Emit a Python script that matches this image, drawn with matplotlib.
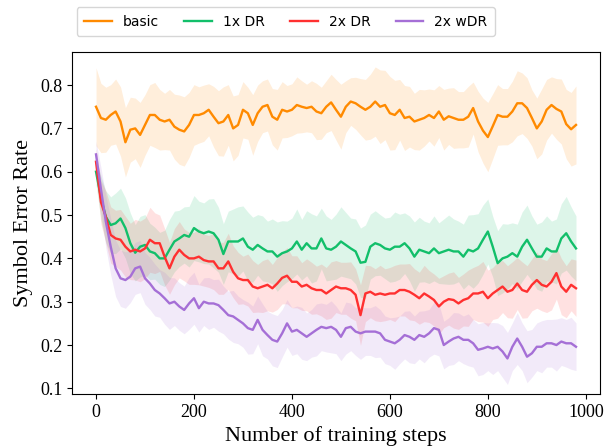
import numpy as np
import matplotlib
matplotlib.use("Agg")
import matplotlib.pyplot as plt

steps = list(range(0, 990, 10))

basic = [0.750, 0.724, 0.720, 0.731, 0.739, 0.716, 0.668, 0.697, 0.700, 0.685,
         0.708, 0.731, 0.731, 0.720, 0.716, 0.720, 0.704, 0.697, 0.693, 0.708,
         0.731, 0.731, 0.735, 0.743, 0.727, 0.712, 0.716, 0.731, 0.700, 0.708,
         0.743, 0.735, 0.708, 0.735, 0.750, 0.754, 0.727, 0.720, 0.743, 0.739,
         0.743, 0.754, 0.750, 0.747, 0.750, 0.739, 0.735, 0.750, 0.760, 0.743,
         0.727, 0.750, 0.762, 0.758, 0.750, 0.743, 0.750, 0.762, 0.750, 0.754,
         0.735, 0.731, 0.743, 0.724, 0.727, 0.716, 0.720, 0.724, 0.731, 0.724,
         0.739, 0.720, 0.728, 0.724, 0.720, 0.720, 0.727, 0.747, 0.716, 0.695,
         0.680, 0.705, 0.731, 0.727, 0.727, 0.739, 0.758, 0.758, 0.747, 0.724,
         0.700, 0.716, 0.743, 0.754, 0.745, 0.739, 0.710, 0.698, 0.708]

dr1 = [0.600, 0.540, 0.496, 0.477, 0.481, 0.492, 0.470, 0.435, 0.413, 0.427,
       0.431, 0.416, 0.412, 0.400, 0.400, 0.420, 0.439, 0.446, 0.454, 0.450,
       0.470, 0.462, 0.458, 0.462, 0.458, 0.443, 0.410, 0.439, 0.439, 0.439,
       0.446, 0.427, 0.420, 0.431, 0.423, 0.416, 0.416, 0.404, 0.412, 0.416,
       0.423, 0.439, 0.420, 0.435, 0.423, 0.423, 0.446, 0.423, 0.420, 0.427,
       0.439, 0.431, 0.423, 0.416, 0.390, 0.392, 0.427, 0.435, 0.431, 0.423,
       0.420, 0.427, 0.427, 0.435, 0.423, 0.404, 0.420, 0.416, 0.412, 0.423,
       0.412, 0.416, 0.420, 0.416, 0.416, 0.404, 0.420, 0.416, 0.423, 0.443,
       0.462, 0.427, 0.389, 0.400, 0.404, 0.412, 0.404, 0.427, 0.443, 0.423,
       0.404, 0.404, 0.423, 0.416, 0.416, 0.446, 0.458, 0.439, 0.423]

dr2 = [0.623, 0.530, 0.496, 0.454, 0.446, 0.443, 0.427, 0.416, 0.420, 0.416,
       0.423, 0.443, 0.435, 0.435, 0.404, 0.377, 0.404, 0.420, 0.408, 0.400,
       0.400, 0.404, 0.396, 0.393, 0.393, 0.377, 0.377, 0.393, 0.369, 0.354,
       0.350, 0.350, 0.335, 0.331, 0.335, 0.339, 0.331, 0.342, 0.355, 0.360,
       0.346, 0.346, 0.335, 0.339, 0.331, 0.327, 0.327, 0.319, 0.327, 0.335,
       0.331, 0.331, 0.327, 0.316, 0.269, 0.319, 0.323, 0.316, 0.319, 0.316,
       0.319, 0.319, 0.327, 0.327, 0.323, 0.316, 0.308, 0.319, 0.312, 0.304,
       0.289, 0.300, 0.306, 0.304, 0.296, 0.304, 0.308, 0.319, 0.319, 0.323,
       0.308, 0.319, 0.327, 0.335, 0.323, 0.327, 0.342, 0.327, 0.323, 0.339,
       0.350, 0.339, 0.335, 0.346, 0.366, 0.335, 0.323, 0.339, 0.331]

wdr2 = [0.640, 0.560, 0.485, 0.427, 0.377, 0.354, 0.350, 0.358, 0.377, 0.381,
        0.354, 0.342, 0.327, 0.319, 0.308, 0.296, 0.300, 0.289, 0.281, 0.296,
        0.308, 0.285, 0.300, 0.296, 0.296, 0.292, 0.281, 0.269, 0.266, 0.258,
        0.250, 0.239, 0.235, 0.258, 0.235, 0.223, 0.212, 0.208, 0.227, 0.250,
        0.231, 0.235, 0.227, 0.219, 0.227, 0.235, 0.242, 0.239, 0.242, 0.235,
        0.219, 0.239, 0.242, 0.231, 0.227, 0.231, 0.231, 0.231, 0.227, 0.212,
        0.208, 0.204, 0.212, 0.223, 0.219, 0.212, 0.223, 0.219, 0.227, 0.239,
        0.235, 0.200, 0.208, 0.215, 0.219, 0.212, 0.212, 0.204, 0.189, 0.192,
        0.196, 0.192, 0.196, 0.185, 0.169, 0.196, 0.215, 0.196, 0.173, 0.181,
        0.196, 0.196, 0.204, 0.204, 0.200, 0.208, 0.204, 0.204, 0.196]

basic_sd = [0.09, 0.08, 0.075, 0.07, 0.075, 0.08, 0.08, 0.075, 0.07, 0.075,
            0.07, 0.07, 0.075, 0.07, 0.065, 0.07, 0.075, 0.08, 0.08, 0.075,
            0.07, 0.065, 0.065, 0.06, 0.07, 0.075, 0.08, 0.07, 0.075, 0.07,
            0.065, 0.06, 0.07, 0.065, 0.06, 0.06, 0.065, 0.07, 0.065, 0.06,
            0.06, 0.065, 0.06, 0.055, 0.06, 0.065, 0.06, 0.06, 0.065, 0.07,
            0.075, 0.06, 0.055, 0.06, 0.065, 0.07, 0.075, 0.08, 0.085, 0.08,
            0.085, 0.08, 0.07, 0.075, 0.07, 0.065, 0.07, 0.065, 0.06, 0.065,
            0.06, 0.07, 0.065, 0.07, 0.065, 0.065, 0.07, 0.06, 0.07, 0.075,
            0.08, 0.075, 0.07, 0.065, 0.065, 0.07, 0.075, 0.07, 0.07, 0.065,
            0.07, 0.075, 0.07, 0.065, 0.07, 0.075, 0.08, 0.085, 0.09]

dr1_sd = [0.03, 0.05, 0.06, 0.065, 0.07, 0.07, 0.07, 0.07, 0.065, 0.07,
          0.07, 0.065, 0.06, 0.06, 0.065, 0.07, 0.07, 0.065, 0.065, 0.07,
          0.075, 0.07, 0.07, 0.075, 0.08, 0.075, 0.07, 0.07, 0.075, 0.08,
          0.075, 0.08, 0.075, 0.07, 0.075, 0.07, 0.075, 0.08, 0.075, 0.07,
          0.07, 0.075, 0.07, 0.075, 0.08, 0.075, 0.07, 0.075, 0.07, 0.075,
          0.08, 0.075, 0.07, 0.075, 0.08, 0.085, 0.075, 0.075, 0.07, 0.07,
          0.075, 0.08, 0.075, 0.07, 0.075, 0.08, 0.075, 0.07, 0.07, 0.075,
          0.07, 0.075, 0.08, 0.075, 0.07, 0.075, 0.08, 0.085, 0.08, 0.08,
          0.075, 0.07, 0.075, 0.08, 0.075, 0.07, 0.075, 0.08, 0.08, 0.075,
          0.075, 0.08, 0.075, 0.07, 0.075, 0.08, 0.085, 0.08, 0.075]

dr2_sd = [0.03, 0.05, 0.06, 0.065, 0.065, 0.07, 0.07, 0.065, 0.07, 0.07,
          0.07, 0.075, 0.07, 0.065, 0.065, 0.06, 0.065, 0.065, 0.06, 0.06,
          0.06, 0.065, 0.06, 0.06, 0.065, 0.06, 0.06, 0.065, 0.06, 0.06,
          0.055, 0.06, 0.06, 0.055, 0.06, 0.06, 0.055, 0.06, 0.06, 0.065,
          0.06, 0.06, 0.055, 0.06, 0.06, 0.055, 0.06, 0.06, 0.065, 0.06,
          0.06, 0.06, 0.065, 0.06, 0.07, 0.065, 0.06, 0.06, 0.065, 0.06,
          0.06, 0.065, 0.06, 0.06, 0.065, 0.06, 0.06, 0.065, 0.06, 0.06,
          0.065, 0.06, 0.06, 0.065, 0.06, 0.06, 0.065, 0.06, 0.065, 0.07,
          0.065, 0.06, 0.065, 0.06, 0.06, 0.065, 0.06, 0.065, 0.06, 0.06,
          0.065, 0.06, 0.06, 0.065, 0.06, 0.065, 0.06, 0.06, 0.065]

wdr2_sd = [0.03, 0.05, 0.06, 0.065, 0.065, 0.065, 0.065, 0.06, 0.06, 0.06,
           0.06, 0.06, 0.06, 0.055, 0.06, 0.06, 0.055, 0.055, 0.055, 0.06,
           0.06, 0.055, 0.055, 0.06, 0.055, 0.06, 0.055, 0.055, 0.06, 0.055,
           0.055, 0.06, 0.055, 0.055, 0.06, 0.055, 0.06, 0.06, 0.055, 0.055,
           0.055, 0.055, 0.06, 0.055, 0.055, 0.06, 0.055, 0.055, 0.06, 0.055,
           0.055, 0.06, 0.055, 0.055, 0.06, 0.055, 0.055, 0.06, 0.055, 0.055,
           0.055, 0.06, 0.055, 0.055, 0.06, 0.055, 0.055, 0.06, 0.055, 0.06,
           0.06, 0.055, 0.055, 0.06, 0.055, 0.055, 0.06, 0.055, 0.06, 0.06,
           0.055, 0.06, 0.055, 0.06, 0.06, 0.055, 0.06, 0.055, 0.06, 0.055,
           0.055, 0.06, 0.055, 0.055, 0.06, 0.055, 0.055, 0.06, 0.055]

labels = ["basic", "1x DR", "2x DR", "2x wDR"]
colors = ["#ff8a00", "#12bf6a", "#ff3030", "#a56fd6"]

series = [basic, dr1, dr2, wdr2]
spreads = [basic_sd, dr1_sd, dr2_sd, wdr2_sd]

fig = plt.figure(figsize=(6.13, 4.47), dpi=100)
ax = fig.add_axes([0.1175, 0.1186, 0.8613, 0.7657])

x = np.array(steps)
for vals, sd, lab, col in zip(series, spreads, labels, colors):
    v = np.array(vals)
    s = np.array(sd)
    ax.plot(x, v, color=col, lw=1.7, label=lab, zorder=3)
    ax.fill_between(x, v - s, v + s, color=col, alpha=0.14, lw=0, zorder=2)

ax.set_xlim(-49, 1029)
ax.set_ylim(0.087, 0.877)
ax.set_xticks([0, 200, 400, 600, 800, 1000])
ax.set_yticks([0.1, 0.2, 0.3, 0.4, 0.5, 0.6, 0.7, 0.8])
for t in ax.get_xticklabels() + ax.get_yticklabels():
    t.set_fontfamily("Liberation Serif")
    t.set_fontsize(13)
ax.set_xlabel("Number of training steps", fontfamily="Liberation Serif", fontsize=16, labelpad=4)
ax.set_ylabel("Symbol Error Rate", fontfamily="Liberation Serif", fontsize=16, labelpad=5)

ax.legend(loc="center", bbox_to_anchor=(0.405, 1.088), ncol=4, borderpad=0.55,
          columnspacing=1.8, frameon=True, prop={"family": "DejaVu Sans", "size": 10})

fig.savefig("out.png", dpi=100)
